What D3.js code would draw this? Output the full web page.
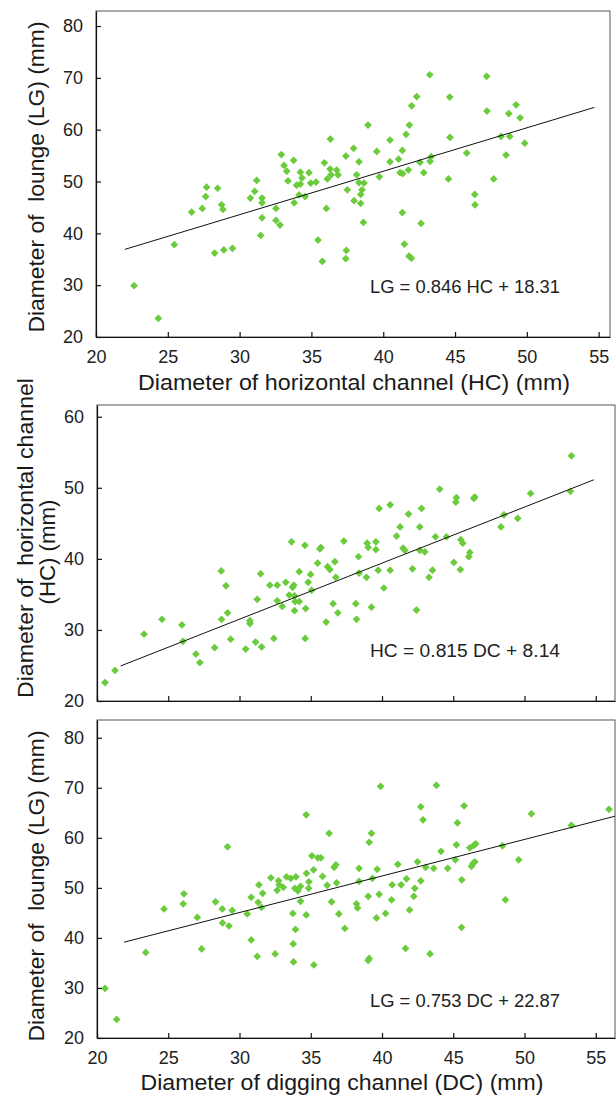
<!DOCTYPE html>
<html>
<head>
<meta charset="utf-8">
<script src="https://cdn.jsdelivr.net/npm/d3@7"></script>
<style>
  body { margin: 0; background: #fff; }
  svg { display: block; font-family: "Liberation Sans", Arial, sans-serif; }
</style>
</head>
<body>
<div id="chart"></div>
<script>
// tick values
const ticksX = [20, 25, 30, 35, 40, 45, 50, 55];
const ticksLG = [20, 30, 40, 50, 60, 70, 80];
const ticksHC = [20, 30, 40, 50, 60];

// Panel A: horizontal channel (HC) vs lounge (LG)
const hcA = [22.65, 24.34, 25.45, 26.66, 27.4, 27.64, 27.7, 28.26, 28.47, 28.75, 28.84, 28.9, 29.5,
  30.75, 31.05, 31.19, 31.56, 31.56, 31.56, 31.47, 32.53, 32.53, 32.81, 32.9, 33.09, 33.28, 33.37,
  33.76, 33.8, 33.97, 34.23, 34.23, 34.14, 34.35, 34.56, 34.83, 34.95, 35.32, 35.46, 35.76, 35.9,
  36.04, 36.11, 36.3, 36.32, 36.37, 36.76, 36.85, 37.4, 37.5, 37.43, 37.39, 37.94, 37.97, 38.15,
  38.31, 38.31, 38.52, 38.43, 38.43, 38.62, 38.66, 38.94, 39.55, 39.73, 40.47, 40.47, 41.07, 41.17,
  41.33, 41.35, 41.33, 41.47, 41.59, 41.75, 41.82, 41.8, 41.96, 41.98, 42.33, 42.56, 42.63, 42.82,
  43.24, 43.26, 43.33, 44.54, 44.63, 44.65, 45.81, 46.37, 46.39, 47.2, 47.22, 47.69, 48.2, 48.55,
  48.74, 48.81, 49.25, 49.53, 49.85];
const lgA = [29.9, 23.6, 37.8, 44.1, 44.8, 47.1, 48.9, 36.2, 48.7, 45.5, 44.6, 36.8, 37.1,
  46.8, 48.1, 50.2, 46.8, 45.9, 43.0, 39.6, 44.8, 42.5, 41.6, 55.2, 53.1, 52.0, 50.1,
  54.1, 45.9, 49.3, 51.8, 49.5, 47.4, 50.7, 47.1, 51.7, 49.7, 49.9, 38.7, 34.6, 53.6,
  44.8, 50.5, 52.4, 58.2, 51.3, 52.2, 51.3, 54.9, 48.4, 36.7, 35.1, 56.4, 46.3, 51.3,
  53.8, 49.8, 48.4, 47.5, 45.8, 42.1, 49.7, 60.9, 55.8, 50.9, 58.0, 53.8, 54.3, 51.7,
  56.0, 51.5, 44.0, 37.9, 59.1, 52.2, 60.9, 35.6, 35.2, 64.6, 66.4, 53.7, 41.9, 51.7,
  70.6, 53.9, 54.8, 50.5, 66.3, 58.5, 55.5, 47.5, 45.5, 70.3, 63.6, 50.5, 58.7, 55.1,
  63.1, 58.7, 64.8, 62.3, 57.4];
const fitAx = [22.0, 54.7], fitAy = [36.9, 64.3];

// Panel B: digging channel (DC) vs horizontal channel (HC)
const dcB = [20.56, 21.26, 23.3, 24.56, 25.96, 26.03, 26.94, 27.22, 28.25, 28.72, 28.74, 29.05, 29.16,
  29.38, 30.43, 30.73, 30.73, 31.13, 31.24, 31.48, 31.55, 32.13, 32.41, 32.65, 32.65, 33.0, 33.25,
  33.49, 33.65, 33.72, 33.81, 33.86, 33.9, 33.86, 34.19, 34.19, 34.59, 34.64, 34.61, 34.82, 34.99,
  35.06, 35.48, 35.64, 35.71, 36.08, 36.18, 36.34, 36.57, 36.69, 36.76, 36.9, 37.32, 38.16, 38.21,
  38.35, 38.39, 38.91, 38.96, 39.03, 39.26, 39.57, 39.57, 39.73, 39.8, 40.13, 40.57, 40.57, 41.02,
  41.27, 41.48, 41.6, 41.86, 42.14, 42.42, 42.65, 42.65, 42.77, 43.0, 43.3, 43.54, 43.75, 44.05,
  44.52, 45.04, 45.18, 45.22, 45.5, 45.53, 45.67, 46.09, 46.16, 46.44, 46.51, 48.35, 48.56, 49.52,
  50.43, 53.22, 53.29];
const hcB = [22.6, 24.3, 29.4, 31.5, 30.7, 28.4, 26.6, 25.4, 27.5, 38.3, 31.5, 36.2, 32.4,
  28.7, 27.3, 31.3, 30.9, 28.3, 34.3, 37.9, 27.6, 36.3, 28.8, 36.3, 34.1, 33.3, 36.7,
  34.9, 42.4, 36.0, 36.3, 34.8, 34.0, 32.7, 38.2, 34.0, 41.9, 33.0, 28.8, 36.7, 37.8,
  35.6, 39.4, 41.4, 41.6, 31.1, 38.9, 38.5, 33.7, 39.6, 37.4, 32.4, 42.5, 33.7, 31.5,
  40.3, 38.0, 37.4, 42.2, 41.6, 33.2, 42.4, 41.3, 38.4, 47.1, 35.9, 47.6, 38.4, 43.2,
  44.5, 41.5, 41.2, 46.3, 38.6, 32.8, 44.5, 41.2, 47.1, 41.0, 37.4, 38.4, 43.1, 49.8,
  43.1, 39.5, 48.0, 48.6, 38.5, 42.7, 42.2, 40.3, 40.9, 48.5, 48.7, 44.5, 46.2, 45.7,
  49.2, 49.5, 54.5];
const fitBx = [21.66, 54.87], fitBy = [24.93, 51.13];

// Panel C: digging channel (DC) vs lounge (LG)
const dcC = [20.56, 21.38, 23.42, 24.7, 26.1, 26.05, 27.04, 27.34, 28.32, 28.79, 28.81, 29.16, 29.26,
  29.49, 30.54, 30.82, 30.82, 31.24, 31.31, 31.36, 31.55, 31.62, 32.2, 32.5, 32.64, 32.74, 32.78,
  33.07, 33.3, 33.6, 33.74, 33.77, 33.79, 33.88, 33.96, 33.93, 34.1, 34.28, 34.28, 34.68, 34.7,
  34.68, 34.85, 34.87, 35.08, 35.2, 35.22, 35.5, 35.71, 35.83, 36.15, 36.29, 36.46, 36.64, 36.76,
  36.81, 36.97, 37.39, 38.21, 38.28, 38.39, 38.39, 39.03, 39.03, 39.1, 39.1, 39.26, 39.33, 39.61,
  39.66, 39.8, 39.9, 40.25, 40.67, 40.71, 41.11, 41.34, 41.65, 41.72, 41.93, 42.23, 42.3, 42.49,
  42.72, 42.72, 42.88, 43.07, 43.37, 43.63, 43.82, 44.14, 44.61, 45.15, 45.22, 45.29, 45.6, 45.58,
  45.76, 46.16, 46.28, 46.39, 46.44, 46.51, 46.58, 48.45, 48.66, 49.59, 50.48, 53.29, 55.93];
const lgC = [29.9, 23.7, 37.1, 45.8, 48.8, 46.8, 44.1, 37.8, 47.2, 45.8, 43.0, 58.2, 42.4,
  45.5, 44.8, 39.6, 48.1, 36.3, 47.1, 50.6, 46.1, 48.9, 52.0, 36.8, 49.5, 51.4, 50.6,
  50.1, 52.2, 51.9, 44.9, 38.8, 35.2, 49.9, 52.2, 41.7, 49.4, 50.3, 47.3, 64.6, 52.9,
  44.6, 49.9, 51.2, 56.4, 53.6, 34.6, 56.0, 56.0, 52.3, 50.5, 60.9, 47.2, 54.1, 54.6,
  51.0, 44.8, 41.9, 46.8, 46.0, 53.9, 51.3, 48.3, 35.5, 35.9, 59.1, 60.9, 51.9, 44.0,
  53.7, 48.7, 70.3, 44.9, 47.6, 50.6, 54.7, 50.6, 37.9, 51.8, 45.6, 48.3, 49.9, 55.2,
  51.4, 66.2, 63.6, 54.1, 36.8, 53.9, 70.5, 57.3, 53.9, 55.6, 58.6, 63.0, 51.6, 42.1,
  66.4, 58.0, 54.3, 54.9, 58.5, 55.2, 58.8, 58.4, 47.6, 55.6, 64.8, 62.5, 65.7];
const fitCx = [21.9, 56.4], fitCy = [39.15, 64.35];

const panels = [
  { xs: hcA, ys: lgA, fx: fitAx, fy: fitAy, yTicks: ticksLG,
    left: 96, right: 610, top: 11, bottom: 337, xMax: 55.79, yMax: 82.9,
    eq: "LG = 0.846 HC + 18.31", eqY: 293, showX: true,
    xTitle: { text: "Diameter of horizontal channel (HC) (mm)", x: 354, y: 390, len: 432 },
    yTitle: [{ text: "Diameter of  lounge (LG) (mm)", x: 44, y: 177, len: 311 }] },
  { xs: dcB, ys: hcB, fx: fitBx, fy: fitBy, yTicks: ticksHC,
    left: 97, right: 615, top: 405, bottom: 701, xMax: 56.35, yMax: 61.65,
    eq: "HC = 0.815 DC + 8.14", eqY: 657, showX: false,
    yTitle: [{ text: "Diameter of  horizontal channel", x: 33, y: 538, len: 320 },
             { text: "(HC) (mm)", x: 55, y: 552, len: 105 }] },
  { xs: dcC, ys: lgC, fx: fitCx, fy: fitCy, yTicks: ticksLG,
    left: 97, right: 615, top: 720, bottom: 1038, xMax: 56.35, yMax: 83.54,
    eq: "LG = 0.753 DC + 22.87", eqY: 1007, showX: true,
    xTitle: { text: "Diameter of digging channel (DC) (mm)", x: 342, y: 1090, len: 403 },
    yTitle: [{ text: "Diameter of  lounge (LG) (mm)", x: 44, y: 886, len: 311 }] }
];

const svg = d3.select("#chart").append("svg")
  .attr("width", 616)
  .attr("height", 1096);

const diamond = d3.symbol().type(d3.symbolSquare).size(30);

function title(t, rotate) {
  svg.append("text")
    .attr("transform", "translate(" + t.x + "," + t.y + ")" + (rotate ? " rotate(-90)" : ""))
    .attr("text-anchor", "middle")
    .attr("font-size", 22).attr("fill", "#1a1a1a")
    .attr("textLength", t.len)
    .attr("lengthAdjust", "spacingAndGlyphs")
    .style("white-space", "pre")
    .text(t.text);
}

panels.forEach((p, pi) => {
  const x = d3.scaleLinear().domain([20, p.xMax]).range([p.left, p.right]);
  const y = d3.scaleLinear().domain([20, p.yMax]).range([p.bottom, p.top]);

  // frame
  svg.append("rect")
    .attr("x", p.left).attr("y", p.top)
    .attr("width", p.right - p.left).attr("height", p.bottom - p.top)
    .attr("fill", "none").attr("stroke", "#555").attr("stroke-width", 1);

  const clipId = "clip" + pi;
  svg.append("clipPath").attr("id", clipId)
    .append("rect")
    .attr("x", p.left).attr("y", p.top)
    .attr("width", p.right - p.left).attr("height", p.bottom - p.top);

  // points
  svg.append("g").selectAll("path")
    .data(p.xs.map((v, i) => [v, p.ys[i]]))
    .enter().append("path")
    .attr("d", diamond)
    .attr("transform", d => "translate(" + x(d[0]) + "," + y(d[1]) + ") rotate(45)")
    .attr("fill", "#6acb3c");

  // fit line
  svg.append("line")
    .attr("clip-path", "url(#" + clipId + ")")
    .attr("x1", x(p.fx[0])).attr("y1", y(p.fy[0]))
    .attr("x2", x(p.fx[1])).attr("y2", y(p.fy[1]))
    .attr("stroke", "#111").attr("stroke-width", 1);

  // axes (ticks inward)
  const ax = svg.append("g")
    .attr("transform", "translate(0," + p.bottom + ")")
    .call(d3.axisBottom(x).tickValues(ticksX).tickSizeInner(-5).tickSizeOuter(0).tickPadding(13));
  if (!p.showX) ax.selectAll("text").remove();

  const ay = svg.append("g")
    .attr("transform", "translate(" + p.left + ",0)")
    .call(d3.axisLeft(y).tickValues(p.yTicks).tickSizeInner(-5).tickSizeOuter(0).tickPadding(13));

  [ax, ay].forEach(a => {
    a.select(".domain").attr("stroke", "#111").attr("stroke-width", 1.2);
    a.selectAll(".tick line").attr("stroke", "#111").attr("stroke-width", 1.2);
    a.selectAll("text").attr("font-size", 18).attr("fill", "#222")
      .attr("font-family", "'Liberation Sans', Arial, sans-serif");
  });

  // equation
  svg.append("text")
    .attr("x", 465).attr("y", p.eqY)
    .attr("text-anchor", "middle")
    .attr("font-size", 18).attr("fill", "#222")
    .attr("textLength", 190)
    .attr("lengthAdjust", "spacingAndGlyphs")
    .text(p.eq);

  // axis titles
  if (p.xTitle) title(p.xTitle, false);
  p.yTitle.forEach(t => title(t, true));
});
</script>
</body>
</html>
